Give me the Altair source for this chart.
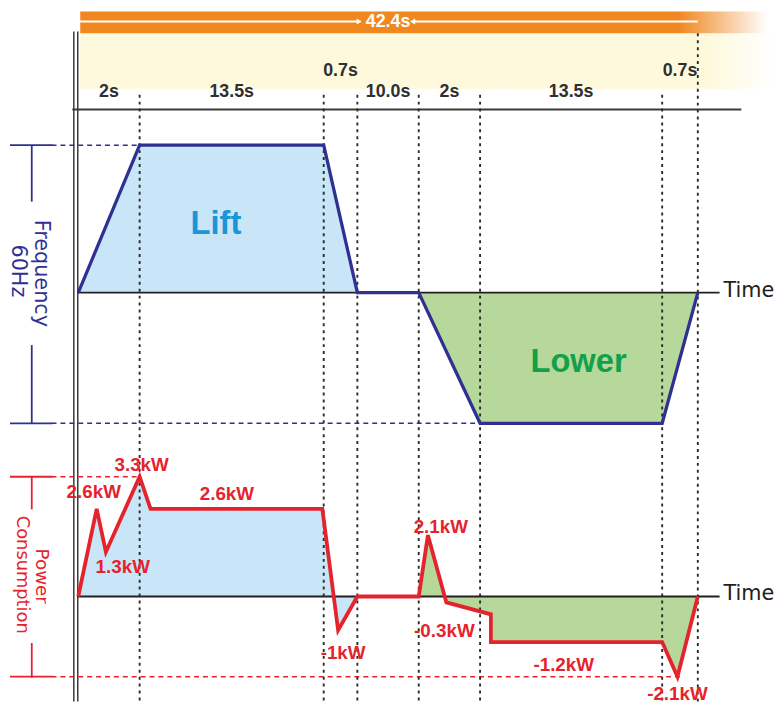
import altair as alt
import pandas as pd

# ---------------- data ----------------
durations = [2, 13.5, 0.7, 10.0, 2, 13.5, 0.7]
duration_labels = ["2s", "13.5s", "0.7s", "10.0s", "2s", "13.5s", "0.7s"]
raised = [False, False, True, False, False, False, True]
total_label = "42.4s"

freq_t = [0, 2, 15.5, 16.2, 26.2, 28.2, 41.7, 42.4]
freq_hz = [0, 60, 60, 0, 0, -60, -60, 0]

power_t = [0, 0.6, 0.9, 2.0, 2.8, 15.4, 15.8, 16.2, 26.2, 26.5, 27.1, 29.0, 29.0, 41.7, 42.0, 42.4]
power_kw = [0, 2.6, 1.3, 3.3, 2.6, 2.6, -1.0, 0, 0, 2.1, -0.1, -0.3, -1.2, -1.2, -2.1, 0]

power_labels = ["3.3kW", "2.6kW", "1.3kW", "2.6kW", "-1kW", "2.1kW", "-0.3kW", "-1.2kW", "-2.1kW"]
label_t = [2.0, 0.6, 0.9, 8.4, 15.8, 26.5, 27.1, 34.4, 42.0]
label_kw = [3.3, 2.6, 1.3, 2.6, -1.0, 2.1, -0.3, -1.2, -2.1]
label_dx = [2, -3, 17, 0, 5, 13, -2, 0, 0]
label_dy = [-12, -17, 15, -15, 23, -8, 17, 23, 18]

# ---------------- styles ----------------
NAVY = "#2e3192"
RED = "#e5232d"
BLUE_FILL = "#c8e6f8"
GREEN_FILL = "#b6d89a"
ORANGE = "#f0871f"
CREAM = "#fef9dc"
DARK = "#2f2f2f"
FONT_B = "Liberation Sans"
FONT_R = "DejaVu Sans"

bounds = [0.0]
for d in durations:
    bounds.append(round(bounds[-1] + d, 1))
x_range = [71, 133, 319, 353, 415, 477, 661, 697]
xs = alt.Scale(domain=bounds, range=x_range, nice=False, zero=False)
fy = alt.Scale(domain=[-60, 0, 60], range=[416, 284, 135], nice=False, zero=False)
py = alt.Scale(domain=[-2.1, -1.2, -1.0, -0.3, 0, 1.3, 2.1, 2.6, 3.3],
               range=[672, 637, 625, 609, 591, 546, 529, 502.5, 470], nice=False, zero=False)


def X():
    return alt.X("t:Q", scale=xs, axis=None)


def FY(**kw):
    return alt.Y("v:Q", scale=fy, axis=None, **kw)


def PY(**kw):
    return alt.Y("v:Q", scale=py, axis=None, **kw)


one = pd.DataFrame({"a": [0]})

freq_df = pd.DataFrame({"t": freq_t, "v": freq_hz, "i": range(len(freq_t))})
pow_df = pd.DataFrame({"t": power_t, "v": power_kw, "i": range(len(power_t))})

mids = [(bounds[k] + bounds[k + 1]) / 2 for k in range(len(durations))]
dur_df = pd.DataFrame({"t": mids, "label": duration_labels, "raised": raised})

layers = []

# header bands
orange_grad = alt.LinearGradient(gradient="linear", x1=0, x2=1, y1=0, y2=0,
                                 stops=[alt.GradientStop(offset=0, color=ORANGE),
                                        alt.GradientStop(offset=0.87, color=ORANGE),
                                        alt.GradientStop(offset=1, color="#ffffff")])
cream_grad = alt.LinearGradient(gradient="linear", x1=0, x2=1, y1=0, y2=0,
                                stops=[alt.GradientStop(offset=0, color=CREAM),
                                       alt.GradientStop(offset=0.9, color=CREAM),
                                       alt.GradientStop(offset=1, color="#ffffff")])
layers.append(alt.Chart(one).mark_rect(color=cream_grad).encode(
    x=alt.value(73), x2=alt.value(776), y=alt.value(22), y2=alt.value(78)))
layers.append(alt.Chart(one).mark_rect(color=orange_grad).encode(
    x=alt.value(73), x2=alt.value(767), y=alt.value(0), y2=alt.value(22)))

# white arrows + total
arrow_df = pd.DataFrame({"t": [0, 25.2], "t2": [16.5, 42.4]})
layers.append(alt.Chart(arrow_df).mark_rule(color="white", strokeWidth=2).encode(
    x=X(), x2="t2:Q", y=alt.value(10)))
layers.append(alt.Chart(pd.DataFrame({"t": [16.5]})).mark_point(
    shape="triangle-right", filled=True, color="white", size=35, opacity=1).encode(
    x=X(), y=alt.value(10)))
layers.append(alt.Chart(pd.DataFrame({"t": [25.2]})).mark_point(
    shape="triangle-left", filled=True, color="white", size=35, opacity=1).encode(
    x=X(), y=alt.value(10)))
layers.append(alt.Chart(pd.DataFrame({"t": [bounds[-1] / 2], "label": [total_label]})).mark_text(
    font=FONT_B, fontWeight="bold", fontSize=18, color="white", baseline="middle").encode(
    x=X(), y=alt.value(10.5), text="label:N"))

# duration labels
layers.append(alt.Chart(dur_df[~dur_df.raised]).mark_text(
    font=FONT_B, fontWeight="bold", fontSize=18, color=DARK, baseline="middle").encode(
    x=X(), y=alt.value(81), text="label:N"))
layers.append(alt.Chart(dur_df[dur_df.raised]).mark_text(
    font=FONT_B, fontWeight="bold", fontSize=18, color=DARK, baseline="middle").encode(
    x=X(), y=alt.value(60), text="label:N"))

# header baseline and double left line
layers.append(alt.Chart(one).mark_rule(color="#3a3a3a", strokeWidth=2).encode(
    x=alt.value(65), x2=alt.value(741), y=alt.value(99)))
for xv in [66.5, 70.5]:
    layers.append(alt.Chart(one).mark_rule(color="#3a3a3a", strokeWidth=1.5).encode(
        x=alt.value(xv), y=alt.value(20), y2=alt.value(697)))

# fills (area down to the zero line of each scale)
layers.append(alt.Chart(freq_df[freq_df.t <= 16.2]).mark_area(color=BLUE_FILL, opacity=1).encode(
    x=X(), y=FY(stack=None)))
layers.append(alt.Chart(freq_df[freq_df.t >= 26.2]).mark_area(color=GREEN_FILL, opacity=1).encode(
    x=X(), y=FY(stack=None)))
layers.append(alt.Chart(pow_df[pow_df.t <= 16.2]).mark_area(color=BLUE_FILL, opacity=1).encode(
    x=X(), y=PY(stack=None)))
layers.append(alt.Chart(pow_df[pow_df.t >= 26.2]).mark_area(color=GREEN_FILL, opacity=1).encode(
    x=X(), y=PY(stack=None)))

# dashed reference lines and brackets
fdash = pd.DataFrame({"v": [60, -60], "x2": [133, 661]})
pdash = pd.DataFrame({"v": [3.3, -2.1], "x2": [133, 679]})
for k in range(2):
    layers.append(alt.Chart(fdash.iloc[[k]]).mark_rule(color=NAVY, strokeWidth=1.5, strokeDash=[5, 4]).encode(
        y=FY(), x=alt.value(44), x2=alt.value(float(fdash.x2[k]))))
    layers.append(alt.Chart(pdash.iloc[[k]]).mark_rule(color=RED, strokeWidth=1.5, strokeDash=[5, 4]).encode(
        y=PY(), x=alt.value(44), x2=alt.value(float(pdash.x2[k]))))
layers.append(alt.Chart(pd.DataFrame({"v": [60, -60]})).mark_rule(color=NAVY, strokeWidth=1.8).encode(
    y=FY(), x=alt.value(2), x2=alt.value(45)))
layers.append(alt.Chart(pd.DataFrame({"v": [3.3, -2.1]})).mark_rule(color=RED, strokeWidth=1.8).encode(
    y=PY(), x=alt.value(2), x2=alt.value(45)))
for (a, b) in [(135, 192), (337, 416)]:
    layers.append(alt.Chart(one).mark_rule(color=NAVY, strokeWidth=1.8).encode(
        x=alt.value(24), y=alt.value(a), y2=alt.value(b)))
for (a, b) in [(470, 503), (638, 673)]:
    layers.append(alt.Chart(one).mark_rule(color=RED, strokeWidth=1.8).encode(
        x=alt.value(24), y=alt.value(a), y2=alt.value(b)))

# time baselines
zero = pd.DataFrame({"v": [0], "label": ["Time"]})
layers.append(alt.Chart(zero).mark_rule(color="#231f20", strokeWidth=1.8).encode(
    y=FY(), x=alt.value(70), x2=alt.value(719)))
layers.append(alt.Chart(zero).mark_rule(color="#231f20", strokeWidth=1.8).encode(
    y=PY(), x=alt.value(70), x2=alt.value(719)))
layers.append(alt.Chart(zero).mark_text(font=FONT_R, fontSize=21, color="#231f20", align="left",
                                        baseline="middle", dy=-2).encode(
    y=FY(), x=alt.value(723), text="label:N"))
layers.append(alt.Chart(zero).mark_text(font=FONT_R, fontSize=21, color="#231f20", align="left",
                                        baseline="middle", dy=-2).encode(
    y=PY(), x=alt.value(723), text="label:N"))

# vertical dotted time markers
mark_df = pd.DataFrame({"t": bounds[1:-1]})
layers.append(alt.Chart(mark_df).mark_rule(color="#2a2a2a", strokeWidth=1.9, strokeDash=[3, 4]).encode(
    x=X(), y=alt.value(84), y2=alt.value(697)))
layers.append(alt.Chart(pd.DataFrame({"t": [bounds[-1]]})).mark_rule(
    color="#2a2a2a", strokeWidth=1.9, strokeDash=[3, 4]).encode(
    x=X(), y=alt.value(22), y2=alt.value(697)))

# profile lines
layers.append(alt.Chart(freq_df).mark_line(color=NAVY, strokeWidth=3.3).encode(
    x=X(), y=FY(), order="i:Q"))
layers.append(alt.Chart(pow_df).mark_line(color=RED, strokeWidth=3.8).encode(
    x=X(), y=PY(), order="i:Q"))

# big labels
layers.append(alt.Chart(pd.DataFrame({"t": [7.6], "v": [28], "label": ["Lift"]})).mark_text(
    font=FONT_B, fontWeight="bold", fontSize=33, color="#1b95d8", baseline="middle").encode(
    x=X(), y=FY(), text="label:N"))
layers.append(alt.Chart(pd.DataFrame({"t": [35.5], "v": [-32], "label": ["Lower"]})).mark_text(
    font=FONT_B, fontWeight="bold", fontSize=33, color="#12a04a", baseline="middle").encode(
    x=X(), y=FY(), text="label:N"))

# power labels
for k in range(len(power_labels)):
    d = pd.DataFrame({"t": [label_t[k]], "v": [label_kw[k]], "label": [power_labels[k]]})
    layers.append(alt.Chart(d).mark_text(font=FONT_B, fontWeight="bold", fontSize=19, color=RED,
                                         baseline="middle", dx=label_dx[k], dy=label_dy[k]).encode(
        x=X(), y=PY(), text="label:N"))

# side titles
side = [("Frequency", 33.3, 264.5, NAVY, 21), ("60Hz", 10, 262, NAVY, 21),
        ("Power", 34, 570.5, RED, 18.5), ("Consumption", 14, 569, RED, 18)]
for (txt, xv, yv, col, fs) in side:
    layers.append(alt.Chart(pd.DataFrame({"label": [txt]})).mark_text(
        font=FONT_R, fontSize=fs, color=col, angle=90, align="center", baseline="middle").encode(
        x=alt.value(xv), y=alt.value(yv), text="label:N"))

chart = alt.layer(*layers).resolve_scale(y="independent").properties(
    width=776, height=697, padding=0, autosize="none"
).configure_view(strokeWidth=0)

chart.save("out.html", embed_options={"renderer": "svg", "actions": False})
